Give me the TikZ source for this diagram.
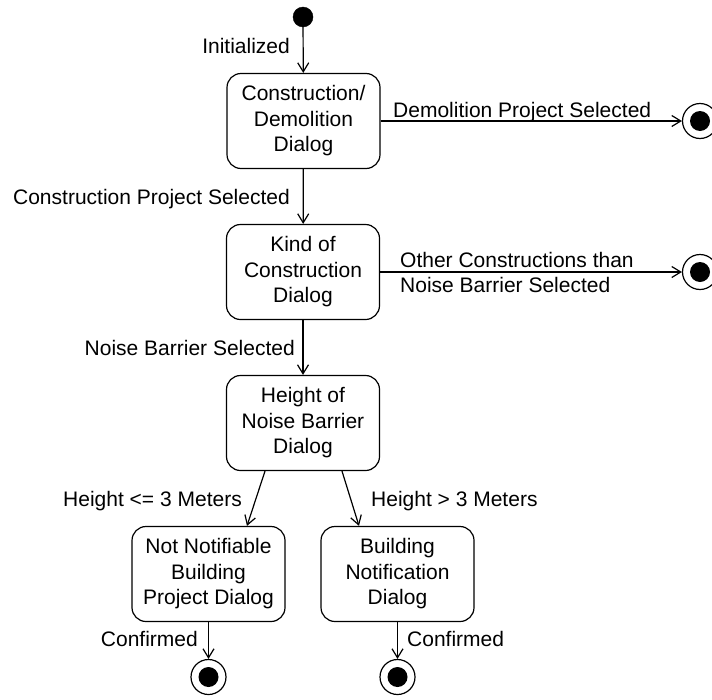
\documentclass[tikz,border=0pt]{standalone}
\usepackage{fontspec}
\setmainfont{Liberation Sans}
\usetikzlibrary{arrows.meta,calc}

\tikzset{
  base font/.style={font=\fontsize{21}{25.5}\selectfont},
  state/.style={base font, draw, line width=1.2pt, rectangle, rounded corners=14pt,
    minimum width=153pt, minimum height=95pt, align=center, inner sep=2pt},
  start/.style={circle, fill=black, draw=black, minimum size=20pt, inner sep=0pt},
  stop/.style={circle, draw=black, line width=1.2pt, minimum size=35pt, inner sep=0pt,
    path picture={\fill[black] (path picture bounding box.center) circle (10pt);}},
  trans/.style={line width=1.2pt, -{Straight Barb[length=9pt,width=11pt,line width=1.2pt]}},
  lbl/.style={base font, inner sep=0pt},
}

\begin{document}
\begin{tikzpicture}[x=1pt, y=-1pt]
  \useasboundingbox (0,0) rectangle (712,699);

  % states
  \node[start] (init) at (303,17) {};
  \node[state] (cd)  at (303.5,121) {Construction/\\Demolition\\Dialog};
  \node[state] (kc)  at (303,272)   {Kind of\\Construction\\Dialog};
  \node[state] (hnb) at (303,423)   {Height of\\Noise Barrier\\Dialog};
  \node[state] (nnb) at (208.5,574) {Not Notifiable\\Building\\Project Dialog};
  \node[state] (bn)  at (397.5,574) {Building\\Notification\\Dialog};

  % final states
  \node[stop] (endDemo)  at (700,121) {};
  \node[stop] (endOther) at (700,272) {};
  \node[stop] (endNN)    at (208.5,677) {};
  \node[stop] (endBN)    at (397.5,677) {};

  % transitions
  \draw[trans] (init) -- (cd);
  \draw[trans] (cd) -- (endDemo);
  \draw[trans] (cd) -- (kc);
  \draw[trans] (kc) -- (endOther);
  \draw[trans] (kc) -- (hnb);
  \draw[trans] ($(hnb.south)+(-38,0)$) -- ($(nnb.north)+(38.5,0)$);
  \draw[trans] ($(hnb.south)+(39,0)$) -- ($(bn.north)+(-38.5,0)$);
  \draw[trans] (nnb) -- (endNN);
  \draw[trans] (bn) -- (endBN);

  % transition labels
  \node[lbl, anchor=base east] (lInit) at (290,53) {Initialized};
  \node[lbl, anchor=base west] (lDemo) at (393,117) {Demolition Project Selected};
  \node[lbl, anchor=base east] (lCons) at (290,204) {Construction Project Selected};
  \node[lbl, anchor=north west, align=left] (lOther) at (400,252)
    {Other Constructions than\\Noise Barrier Selected};
  \node[lbl, anchor=base east] (lNoise) at (295,355) {Noise Barrier Selected};
  \node[lbl, anchor=base east] (lLow)  at (242,506) {Height <= 3 Meters};
  \node[lbl, anchor=base west] (lHigh) at (371,506) {Height > 3 Meters};
  \node[lbl, anchor=base east] (lConfA) at (198,646) {Confirmed};
  \node[lbl, anchor=base west] (lConfB) at (407,646) {Confirmed};
\end{tikzpicture}
\end{document}
